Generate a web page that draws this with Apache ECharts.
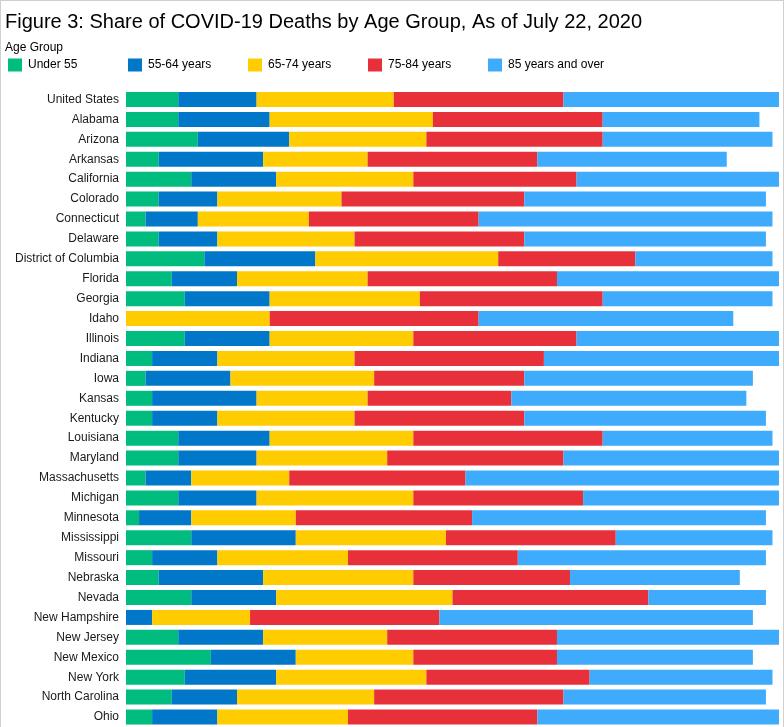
<!DOCTYPE html>
<html>
<head>
<meta charset="utf-8">
<script src="https://cdn.jsdelivr.net/npm/echarts@6/dist/echarts.min.js"></script>
<style>
  html, body { margin: 0; padding: 0; background: #fff; }
  #wrap { position: relative; width: 784px; height: 727px; overflow: hidden; }
  #chart { position: absolute; left: 0; top: 0; width: 784px; height: 727px; }
  #frame { position: absolute; left: 0; top: 0; width: 782px; height: 740px; border: 1px solid #d0d0d0; pointer-events: none; }
</style>
</head>
<body>
<div id="wrap"><div id="chart"></div><div id="frame"></div></div>
<script>
const categories = ["United States","Alabama","Arizona","Arkansas","California","Colorado","Connecticut","Delaware","District of Columbia","Florida","Georgia","Idaho","Illinois","Indiana","Iowa","Kansas","Kentucky","Louisiana","Maryland","Massachusetts","Michigan","Minnesota","Mississippi","Missouri","Nebraska","Nevada","New Hampshire","New Jersey","New Mexico","New York","North Carolina","Ohio"];
const seriesNames = ["Under 55","55-64 years","65-74 years","75-84 years","85 years and over"];
const under55 = [8,8,11,5,10,5,3,5,12,7,9,0,9,4,3,4,4,8,8,3,8,2,10,4,5,10,0,8,13,9,7,4];
const age55_64 = [12,14,14,16,13,9,8,9,17,10,13,0,13,10,13,16,10,14,12,7,12,8,16,10,16,13,4,13,13,14,10,10];
const age65_74 = [21,25,21,16,21,19,17,21,28,20,23,22,22,21,22,17,21,22,20,15,24,16,23,20,23,27,15,19,18,23,21,20];
const age75_84 = [26,26,27,26,25,28,26,26,21,29,28,32,25,29,23,22,26,29,27,27,26,27,26,26,24,30,29,26,22,25,29,29];
const age85plus = [33,24,26,29,31,37,45,37,21,34,26,39,31,36,35,36,37,26,33,48,30,45,24,38,26,18,48,34,30,28,31,37];
const colors = ["#00bc7e","#0077c8","#ffcc00","#e8303a","#3eabfc"];
const values = [under55, age55_64, age65_74, age75_84, age85plus];
const legendLeft = [8, 128, 248, 368, 488];

const chart = echarts.init(document.getElementById('chart'), null, {renderer: 'canvas'});
const font = 'Liberation Sans, Arial, sans-serif';
chart.setOption({
  animation: false,
  color: colors,
  textStyle: { fontFamily: font },
  title: [
    { text: 'Figure 3: Share of COVID-19 Deaths by Age Group, As of July 22, 2020', left: 5, top: 12, padding: 0,
      textStyle: { fontFamily: font, fontSize: 20, fontWeight: 'normal', color: '#000' } },
    { text: 'Age Group', left: 5, top: 42, padding: 0,
      textStyle: { fontFamily: font, fontSize: 12, fontWeight: 'normal', color: '#000' } }
  ],
  legend: seriesNames.map((n, i) => ({
    data: [n], left: legendLeft[i], top: 58.5, padding: 0, icon: 'rect', itemWidth: 14, itemHeight: 13, itemGap: 5,
    textStyle: { fontFamily: font, fontSize: 12, color: '#000', padding: [0,0,0,1] }
  })),
  grid: { left: 126, right: 5, top: 89.5, bottom: -2.5, containLabel: false },
  xAxis: { type: 'value', min: 0, max: 100, show: false },
  yAxis: {
    type: 'category', data: categories, inverse: true,
    axisLine: { show: true, lineStyle: { color: '#f0f0f0', width: 1 } },
    axisTick: { show: false },
    axisLabel: { fontFamily: font, fontSize: 12, color: '#1a1a1a', margin: 7 }
  },
  series: seriesNames.map((n, i) => ({
    name: n, type: 'bar', stack: 'total', barWidth: 15, data: values[i],
    itemStyle: { color: colors[i] }
  }))
});
</script>
</body>
</html>
